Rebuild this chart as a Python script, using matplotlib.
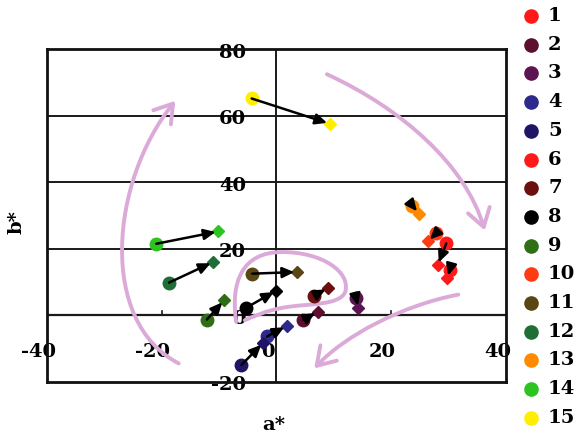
import matplotlib
matplotlib.use("Agg")
import matplotlib.pyplot as plt
from matplotlib.path import Path
from matplotlib.patches import FancyArrowPatch
from matplotlib.lines import Line2D

# ---------------- data ----------------
series = [str(i) for i in range(1, 16)]
colors = ['#ff1a1a', '#5c0f2e', '#5a1552', '#2e2a8c', '#1f1466',
          '#ff1a1a', '#6b0f0f', '#000000', '#2f6e14', '#ff3b14',
          '#5a4612', '#1f6e36', '#ff8a00', '#2cc41e', '#ffee00']
a_start = [30.2, 4.7, 13.9, -1.6, -6.1, 29.6, 6.6, -5.3, -12.1, 27.8, -4.2, -18.7, 23.7, -20.9, -4.3]
b_start = [13.6, -1.4, 5.1, -6.4, -15.0, 21.6, 5.9, 2.2, -1.3, 24.6, 12.5, 9.8, 33.0, 21.5, 65.2]
a_end = [29.8, 7.2, 14.3, 1.8, -2.3, 28.1, 9.0, 0.0, -9.1, 26.4, 3.6, -11.0, 24.8, -10.1, 9.3]
b_end = [11.1, 1.1, 2.1, -3.2, -8.3, 15.1, 8.2, 7.4, 4.5, 22.2, 13.0, 16.0, 30.6, 25.2, 57.6]

x_ticks = [-40, -20, 0, 20, 40]
y_ticks = [80, 60, 40, 20, 0, -20]
grid_y = [20, 40, 60]

# decorative hand-drawn arrows (cubic Bezier control points)
deco_left = [(-17, -14.5), (-31, -2), (-29, 40), (-17.6, 64.5)]
deco_right = [(8.8, 72.5), (22, 62), (33, 45), (36.3, 25.5)]
deco_bottom = [(31.7, 6.2), (22, 3), (12, -6), (6.6, -16.0)]
deco_loop = [(-7, -2), (-8, 10), (-6, 19), (1, 19),
             (8, 19), (13, 13), (12, 7),
             (11, 3), (6, 3.5), (2, 2.5),
             (-2, 1.5), (-4, -0.5), (-5.5, -1.5)]

# ---------------- figure ----------------
W, H = 576, 436
fig = plt.figure(figsize=(W / 100, H / 100), dpi=100)
ax = fig.add_axes([46.7 / W, 1 - 381.7 / H, (506 - 46.7) / W, (381.7 - 49.3) / H])
ax.set_xlim(-40, 40)
ax.set_ylim(-20, 80)
ax.set_xticks([])
ax.set_yticks([])
for s in ax.spines.values():
    s.set_linewidth(2.0)
    s.set_color('#111111')

line_c = '#1a1a1a'
for gy in grid_y:
    ax.axhline(gy, color=line_c, lw=1.4, zorder=1)
ax.axhline(0, color=line_c, lw=1.6, zorder=1)
ax.axvline(0, color=line_c, lw=1.4, zorder=1)
# small tick marks on the a* axis
for tx in [-20, 20]:
    ax.plot([tx, tx], [0, 1.3], color=line_c, lw=1.2, zorder=1)

font = dict(family='DejaVu Serif', weight='bold', size=14)
for t in x_ticks:
    ax.text(t - 1.5, -11.1, str(t), ha='center', va='center', zorder=2, **font)
for t in y_ticks:
    ax.text(-5.3, t - 1.0, str(t), ha='right', va='center', zorder=2, **font)

deco_c = '#dcaad8'

def bez_path(pts):
    codes = [Path.MOVETO] + [Path.CURVE4] * (len(pts) - 1)
    return Path(pts, codes)

for pts, head in [(deco_left, True), (deco_right, True), (deco_bottom, True), (deco_loop, False)]:
    style = '->,head_length=0.7,head_width=0.45' if head else '-'
    p = FancyArrowPatch(path=bez_path(pts), arrowstyle=style, mutation_scale=18,
                        color=deco_c, lw=2.8, zorder=3, capstyle='round', joinstyle='round')
    ax.add_patch(p)

for i in range(len(series)):
    ax.plot(a_start[i], b_start[i], 'o', ms=9, color=colors[i], mec=colors[i], zorder=4)
    ax.plot(a_end[i], b_end[i], 'D', ms=6.5, color=colors[i], mec=colors[i], zorder=4)
for i in range(len(series)):
    ax.annotate('', xy=(a_end[i], b_end[i]), xytext=(a_start[i], b_start[i]),
                arrowprops=dict(arrowstyle='-|>,head_length=0.7,head_width=0.32', color='black',
                                lw=1.8, shrinkA=0, shrinkB=2, mutation_scale=10),
                zorder=5)

fig.text(16.5 / W, 1 - 221.7 / H, 'b*', rotation=90, ha='center', va='center', **font)
fig.text(274 / W, 1 - 425 / H, 'a*', ha='center', va='center', **font)

# legend (manual, matching layout)
for i, (name, c) in enumerate(zip(series, colors)):
    yy = 1 - (16 + i * 28.7) / H
    fig.add_artist(Line2D([530.7 / W], [yy], marker='o', ms=9.5, color=c, mec=c,
                          transform=fig.transFigure, linestyle='none'))
    fig.text(548 / W, yy, name, ha='left', va='center', **font)

fig.savefig('out.png', dpi=100)
